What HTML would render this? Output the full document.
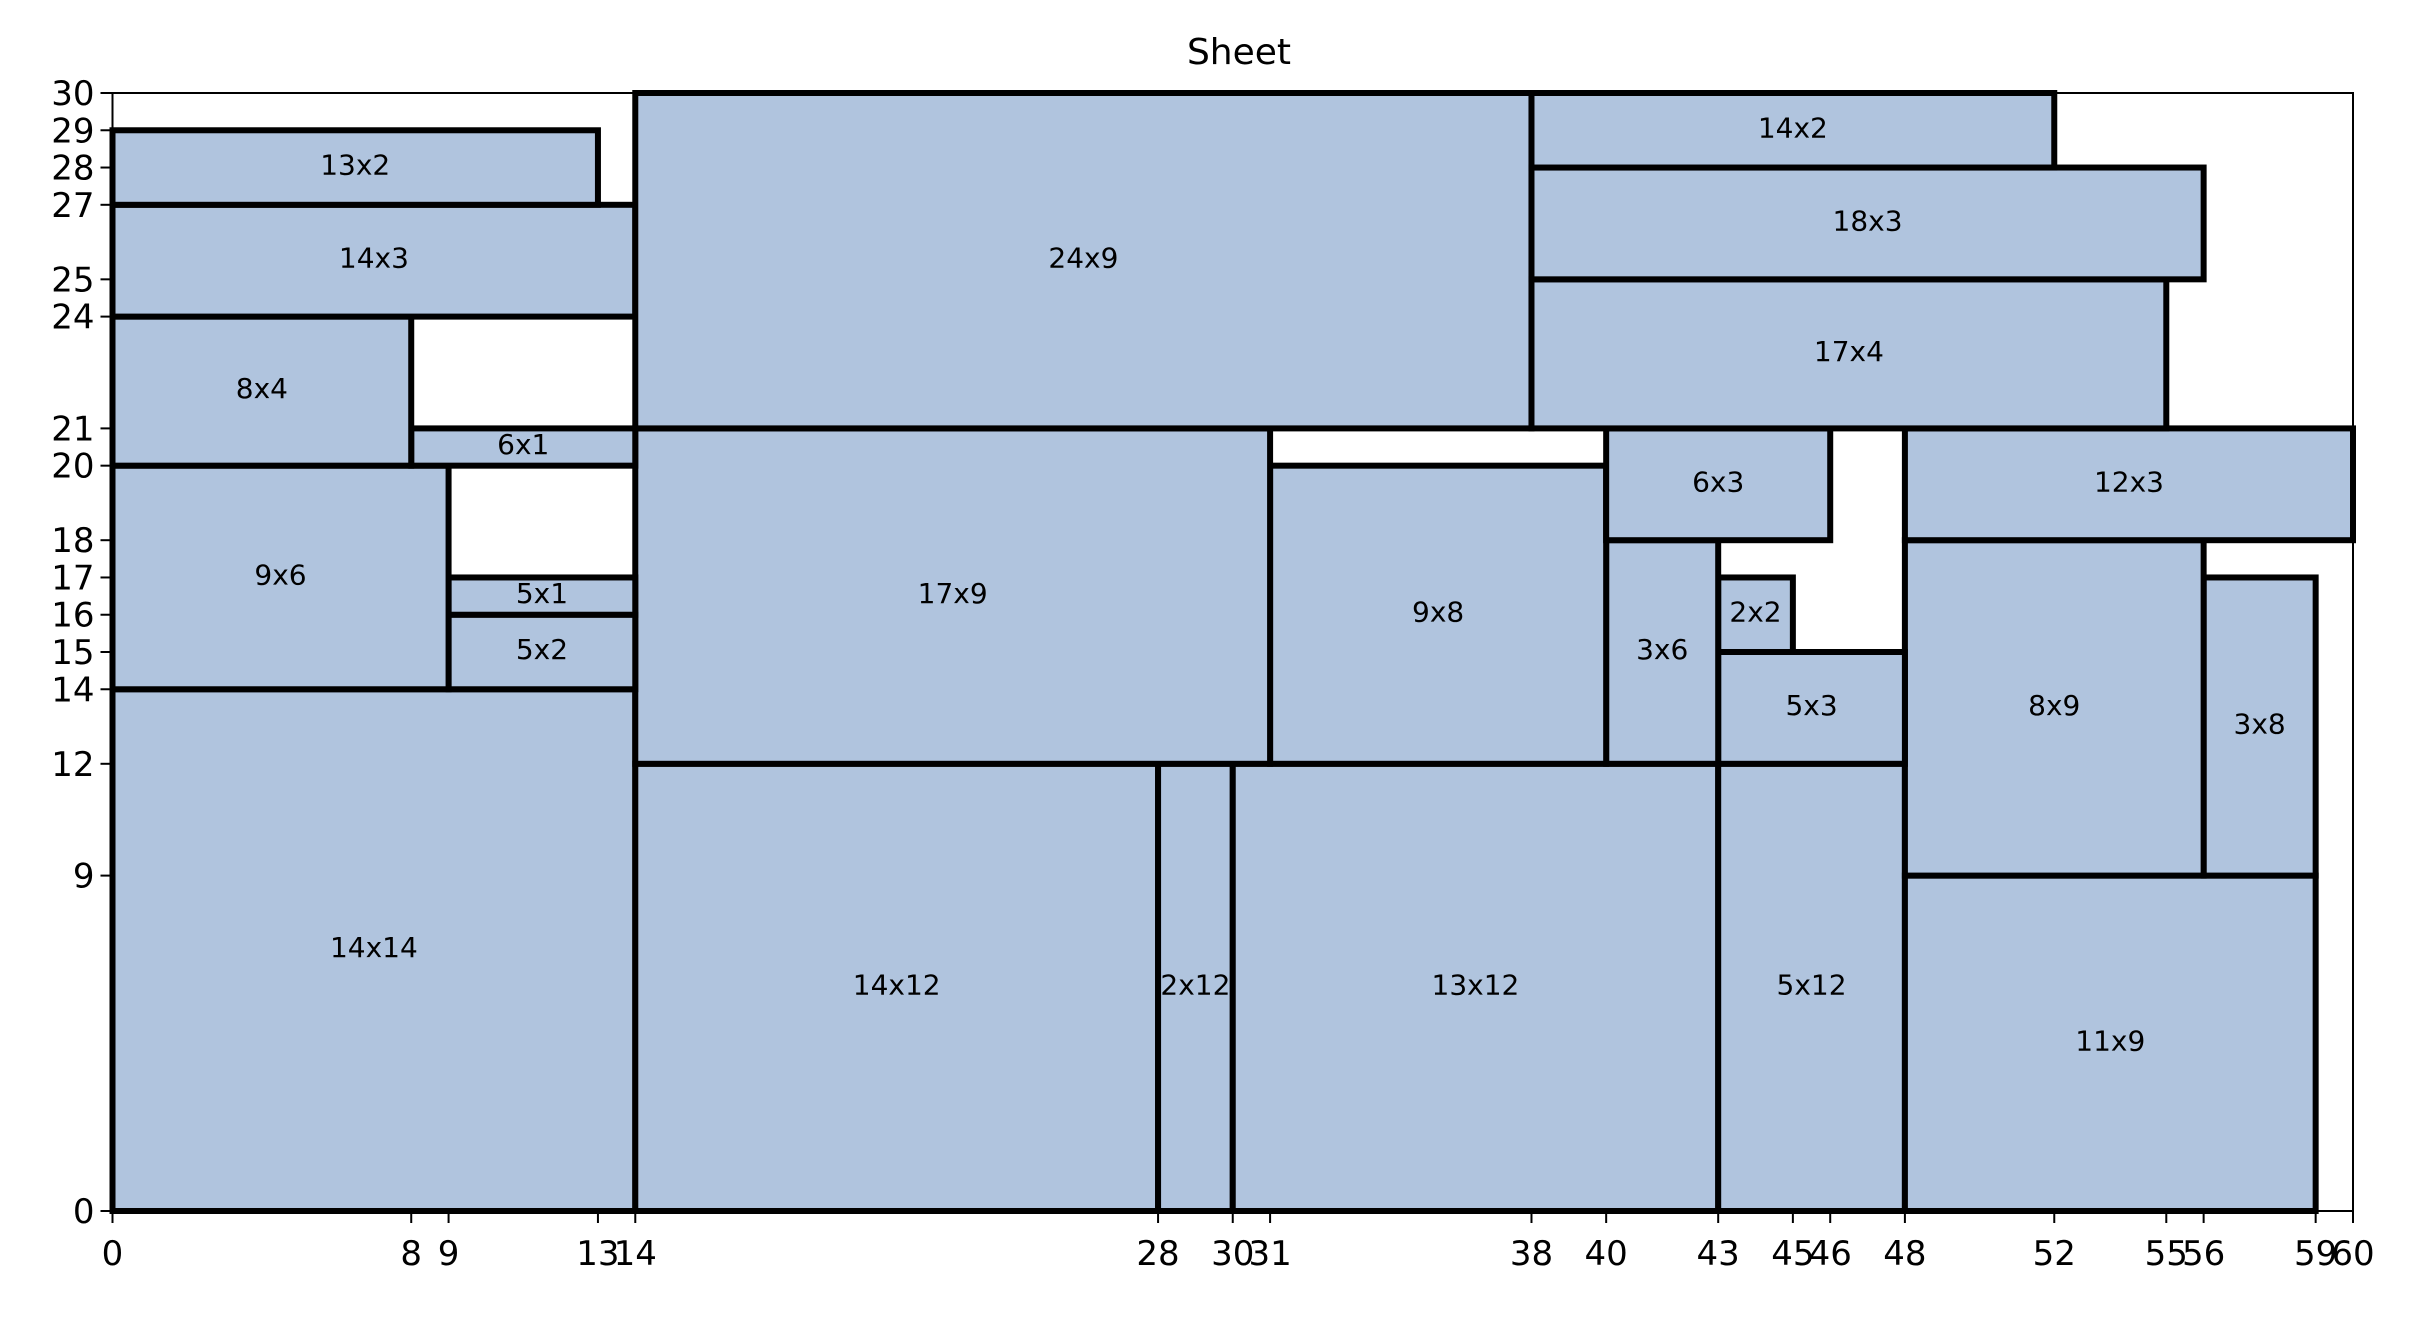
<!DOCTYPE html>
<html><head><meta charset="utf-8"><style>
body{margin:0;background:#fff}
svg text{font-family:"DejaVu Sans","Liberation Sans",sans-serif}
</style></head><body>
<svg id="chart" width="2409" height="1314" viewBox="0 0 2409 1314" xmlns="http://www.w3.org/2000/svg">
<text x="1239" y="64" font-size="36" text-anchor="middle">Sheet</text>
<g id="rects"></g><g id="axes"></g>
</svg>
<script>
const rectX=[0,14,28,30,43,48,56,48,43,43,40,31,14,40,48,9,9,0,8,0,0,0,14,38,38,38];
const rectY=[0,0,0,0,0,0,9,9,12,15,12,12,12,18,18,14,16,14,20,20,24,27,21,21,25,28];
const rectW=[14,14,2,13,5,11,3,8,5,2,3,9,17,6,12,5,5,9,6,8,14,13,24,17,18,14];
const rectH=[14,12,12,12,12,9,8,9,3,2,6,8,9,3,3,2,1,6,1,4,3,2,9,4,3,2];
const xTicks=[0,8,9,13,14,28,30,31,38,40,43,45,46,48,52,55,56,59,60];
const yTicks=[0,9,12,14,15,16,17,18,20,21,24,25,27,28,29,30];
const L=112.5,R=2353,T=93,B=1211;
const sx=v=>L+(R-L)*v/60, sy=v=>B-(B-T)*v/30;
const NS="http://www.w3.org/2000/svg";
const rg=document.getElementById('rects'), ag=document.getElementById('axes');
function mk(tag,attrs,parent){const e=document.createElementNS(NS,tag);for(const k in attrs)e.setAttribute(k,attrs[k]);parent.appendChild(e);return e;}
const frame=mk('rect',{x:L,y:T,width:R-L,height:B-T,fill:'none',stroke:'#000','stroke-width':2},ag);


for(let i=0;i<rectX.length;i++){
  const x0=sx(rectX[i]),x1=sx(rectX[i]+rectW[i]),y0=sy(rectY[i]+rectH[i]),y1=sy(rectY[i]);
  const r=mk('rect',{x:x0,y:y0,width:x1-x0,height:y1-y0,fill:'#b0c4de',stroke:'#000','stroke-width':6},rg);
  
  
  const t=mk('text',{x:(x0+x1)/2,y:(y0+y1)/2+7,'font-size':28,'text-anchor':'middle'},rg);
  t.textContent=rectW[i]+'x'+rectH[i];
  
  
}
xTicks.forEach(v=>{
  const x=sx(v);
  const l=mk('line',{x1:x,x2:x,y1:B,y2:B+12,stroke:'#000','stroke-width':2},ag);
  
  
  const t=mk('text',{x:x,y:B+54,'font-size':34,'text-anchor':'middle'},ag);
  t.textContent=v;
  
  
});
yTicks.forEach(v=>{
  const y=sy(v);
  const l=mk('line',{x1:L-12,x2:L,y1:y,y2:y,stroke:'#000','stroke-width':2},ag);
  
  
  const t=mk('text',{x:L-18,y:y+12,'font-size':34,'text-anchor':'end'},ag);
  t.textContent=v;
  
  
});
</script>
</body></html>
